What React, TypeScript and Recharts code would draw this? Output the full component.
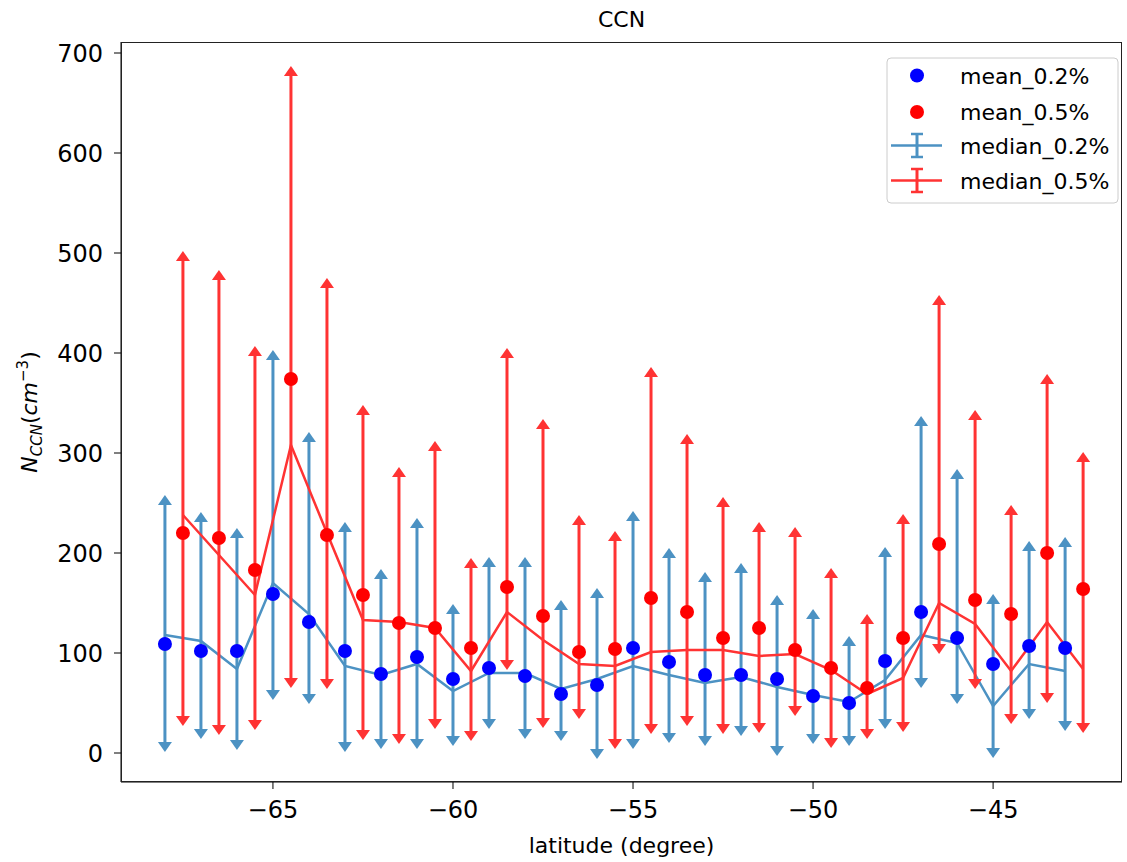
import React from "react";
import { ComposedChart, Line, XAxis, YAxis, ErrorBar } from "recharts";

// supersaturation 0.2% - one point per degree
const lat02 = [-68, -67, -66, -65, -64, -63, -62, -61, -60, -59, -58, -57, -56, -55, -54, -53, -52, -51, -50, -49, -48, -47, -46, -45, -44, -43];
const mean02 = [109, 102, 102, 159, 131, 102, 79, 96, 74, 85, 77, 59, 68, 105, 91, 78, 78, 74, 57, 50, 92, 141, 115, 89, 107, 105];
const median02 = [118, 112, 84, 170, 139, 87, 78, 89, 62, 80, 80, 64, 74, 87, 78, 70, 76, 66, 58, 51, 73, 118, 110, 47, 89, 82];
const upper02 = [248, 231, 215, 393, 311, 221, 174, 225, 139, 186, 186, 143, 155, 232, 195, 171, 180, 148, 134, 107, 196, 327, 274, 149, 202, 206];
const lower02 = [11, 24, 13, 63, 59, 11, 14, 14, 17, 34, 24, 22, 4, 14, 20, 17, 27, 7, 19, 17, 34, 75, 59, 5, 44, 32];

// supersaturation 0.5% - shifted half a degree
const lat05 = [-67.5, -66.5, -65.5, -64.5, -63.5, -62.5, -61.5, -60.5, -59.5, -58.5, -57.5, -56.5, -55.5, -54.5, -53.5, -52.5, -51.5, -50.5, -49.5, -48.5, -47.5, -46.5, -45.5, -44.5, -43.5, -42.5];
const mean05 = [220, 215, 183, 374, 218, 158, 130, 125, 105, 166, 137, 101, 104, 155, 141, 115, 125, 103, 85, 65, 115, 209, 153, 139, 200, 164];
const median05 = [238, 198, 158, 308, 220, 133, 131, 125, 82, 141, 113, 89, 87, 101, 103, 103, 97, 99, 83, 59, 75, 150, 129, 82, 131, 84];
const upper05 = [492, 473, 397, 677, 465, 338, 276, 302, 185, 395, 324, 228, 212, 376, 309, 246, 221, 216, 175, 129, 229, 448, 333, 238, 369, 291];
const lower05 = [37, 28, 33, 75, 74, 23, 19, 34, 22, 93, 35, 44, 14, 29, 37, 29, 30, 47, 15, 24, 31, 109, 74, 39, 60, 30];

const xTicks = [-65, -60, -55, -50, -45];
const yTicks = [0, 100, 200, 300, 400, 500, 600, 700];

const BLUE = "#4c92c3";
const RED = "#ff3333";
const FONT = "DejaVu Sans";

function build(lat: number[], mean: number[], median: number[], upper: number[], lower: number[]) {
  return lat.map((x, i) => ({
    lat: x,
    mean: mean[i],
    median: median[i],
    upper: upper[i],
    lower: lower[i],
    err: [median[i] - lower[i], upper[i] - median[i]],
  }));
}

const data02 = build(lat02, mean02, median02, upper02, lower02);
const data05 = build(lat05, mean05, median05, upper05, lower05);

const arrowUp = (color: string) => (p: any) => {
  if (p.cx == null || p.cy == null) return <g key={`u${p.index}`} />;
  return (
    <polygon
      key={`u${p.index}`}
      points={`${p.cx - 7},${p.cy} ${p.cx + 7},${p.cy} ${p.cx},${p.cy - 10}`}
      fill={color}
    />
  );
};

const arrowDown = (color: string) => (p: any) => {
  if (p.cx == null || p.cy == null) return <g key={`d${p.index}`} />;
  return (
    <polygon
      key={`d${p.index}`}
      points={`${p.cx - 7},${p.cy} ${p.cx + 7},${p.cy} ${p.cx},${p.cy + 10}`}
      fill={color}
    />
  );
};

const meanDot = (color: string) => (p: any) => {
  if (p.cx == null || p.cy == null) return <g key={`m${p.index}`} />;
  return <circle key={`m${p.index}`} cx={p.cx} cy={p.cy} r={7} fill={color} />;
};

const fmtX = (v: number) => String(v).replace("-", "\u2212");

export default function App() {
  return (
    <div style={{ position: "absolute", left: 0, top: 0, width: 1127, height: 862, background: "#fff", fontFamily: FONT }}>
      <ComposedChart width={1127} height={862} margin={{ top: 42, right: 5, bottom: 0, left: 0 }}>
        <XAxis
          type="number"
          dataKey="lat"
          domain={[-69.22, -41.42]}
          ticks={xTicks}
          allowDataOverflow
          height={80}
          tickSize={7}
          tickMargin={12}
          tickFormatter={fmtX}
          tick={{ fontSize: 24, fill: "#000", fontFamily: FONT }}
          tickLine={{ stroke: "#000" }}
          axisLine={{ stroke: "#000" }}
          label={{ value: "latitude (degree)", position: "insideBottom", offset: 9, fontSize: 22, fill: "#000", fontFamily: FONT }}
        />
        <YAxis
          type="number"
          domain={[-29, 711]}
          ticks={yTicks}
          allowDataOverflow
          width={121}
          tickSize={7}
          tickMargin={11}
          tick={{ fontSize: 24, fill: "#000", fontFamily: FONT }}
          tickLine={{ stroke: "#000" }}
          axisLine={{ stroke: "#000" }}
        />

        <Line data={data02} dataKey="median" stroke={BLUE} strokeWidth={2.5} dot={false} activeDot={false} isAnimationActive={false}>
          <ErrorBar dataKey="err" direction="y" width={0} stroke={BLUE} strokeWidth={3} isAnimationActive={false} />
        </Line>
        <Line data={data02} dataKey="upper" stroke="none" dot={arrowUp(BLUE)} activeDot={false} isAnimationActive={false} />
        <Line data={data02} dataKey="lower" stroke="none" dot={arrowDown(BLUE)} activeDot={false} isAnimationActive={false} />

        <Line data={data05} dataKey="median" stroke={RED} strokeWidth={2.5} dot={false} activeDot={false} isAnimationActive={false}>
          <ErrorBar dataKey="err" direction="y" width={0} stroke={RED} strokeWidth={3} isAnimationActive={false} />
        </Line>
        <Line data={data05} dataKey="upper" stroke="none" dot={arrowUp(RED)} activeDot={false} isAnimationActive={false} />
        <Line data={data05} dataKey="lower" stroke="none" dot={arrowDown(RED)} activeDot={false} isAnimationActive={false} />

        <Line data={data02} dataKey="mean" stroke="none" dot={meanDot("#0000ff")} activeDot={false} isAnimationActive={false} />
        <Line data={data05} dataKey="mean" stroke="none" dot={meanDot("#ff0000")} activeDot={false} isAnimationActive={false} />
      </ComposedChart>

      {/* frame */}
      <div style={{ position: "absolute", left: 121, top: 42, width: 1001, height: 740, border: "1px solid #222", boxSizing: "border-box", pointerEvents: "none" }} />

      {/* title */}
      <div style={{ position: "absolute", left: 121, top: 9, width: 1001, textAlign: "center", fontSize: 22, lineHeight: "22px", color: "#000" }}>
        CCN
      </div>

      {/* y label */}
      <svg style={{ position: "absolute", left: 0, top: 0 }} width={60} height={862}>
        <text transform="rotate(-90 37 412)" x={37} y={412} textAnchor="middle" fontSize={22} fontFamily={FONT} fill="#000">
          <tspan fontStyle="italic">N</tspan>
          <tspan fontStyle="italic" fontSize={15} dy={5}>CCN</tspan>
          <tspan dy={-5}>(</tspan>
          <tspan fontStyle="italic">cm</tspan>
          <tspan fontSize={15} dy={-9}>{"\u2212"}3</tspan>
          <tspan dy={9}>)</tspan>
        </text>
      </svg>

      {/* legend */}
      <svg style={{ position: "absolute", left: 0, top: 0, pointerEvents: "none" }} width={1127} height={862}>
        <rect x={887} y={58} width={231} height={145} rx={4} fill="#fff" fillOpacity={0.8} stroke="#cccccc" />
        <circle cx={917} cy={75.5} r={7} fill="#0000ff" />
        <text x={960} y={83.5} fontSize={22} fontFamily={FONT} fill="#000">mean_0.2%</text>
        <circle cx={917} cy={112} r={7} fill="#ff0000" />
        <text x={960} y={120} fontSize={22} fontFamily={FONT} fill="#000">mean_0.5%</text>
        <g stroke={BLUE} strokeWidth={2.5}>
          <line x1={891} x2={942} y1={145.5} y2={145.5} />
          <line x1={917} x2={917} y1={134} y2={157} strokeWidth={3} />
          <line x1={911} x2={923} y1={134} y2={134} />
          <line x1={911} x2={923} y1={157} y2={157} />
        </g>
        <text x={960} y={153.5} fontSize={22} fontFamily={FONT} fill="#000">median_0.2%</text>
        <g stroke={RED} strokeWidth={2.5}>
          <line x1={891} x2={942} y1={180.5} y2={180.5} />
          <line x1={917} x2={917} y1={169} y2={192} strokeWidth={3} />
          <line x1={911} x2={923} y1={169} y2={169} />
          <line x1={911} x2={923} y1={192} y2={192} />
        </g>
        <text x={960} y={188.5} fontSize={22} fontFamily={FONT} fill="#000">median_0.5%</text>
      </svg>
    </div>
  );
}
